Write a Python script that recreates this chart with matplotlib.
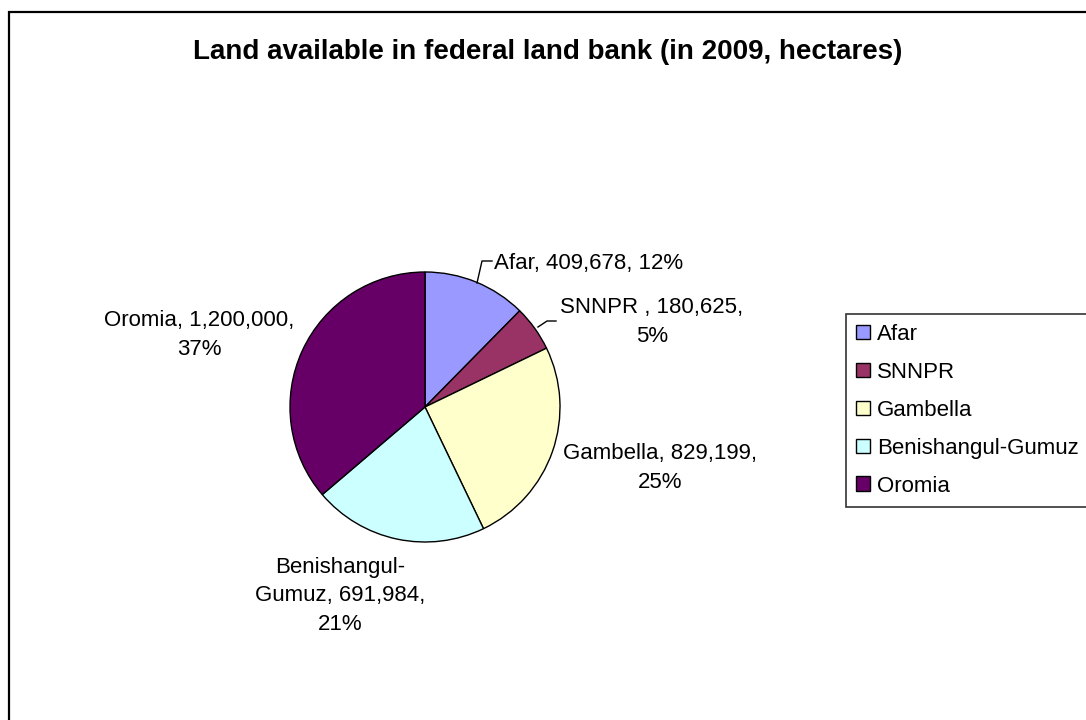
import matplotlib
matplotlib.use("Agg")
import matplotlib.pyplot as plt
from matplotlib.patches import Rectangle
from matplotlib.lines import Line2D

# ---- data ----
categories = ["Afar", "SNNPR ", "Gambella", "Benishangul-Gumuz", "Oromia"]
values = [409678, 180625, 829199, 691984, 1200000]
label_pcts = [12, 5, 25, 21, 37]
colors = ["#9999FF", "#993366", "#FFFFCC", "#CCFFFF", "#660066"]
title = "Land available in federal land bank (in 2009, hectares)"

W, H = 1086, 720
plt.rcParams['font.family'] = ['Liberation Sans', 'DejaVu Sans']

fig = plt.figure(figsize=(W / 100, H / 100), dpi=100)
fig.patch.set_facecolor("white")


def fx(x):
    return x / W


def fy(y):
    return 1 - y / H


# outer frame (extends past right/bottom edge)
fig.patches.append(Rectangle((fx(9), fy(760)), fx(1200), (760 - 12) / H,
                             transform=fig.transFigure, fill=False,
                             edgecolor="black", linewidth=1.6, zorder=0))

# title
fig.text(fx(548), fy(52), title, ha="center", va="center",
         fontsize=20, fontweight="bold")

# pie
cx, cy, r = 425, 407, 135
ax = fig.add_axes([fx(cx - r), fy(cy + r), 2 * r / W, 2 * r / H])
wedges, _ = ax.pie(values, colors=colors, startangle=90, counterclock=False,
                   radius=1.0,
                   wedgeprops=dict(edgecolor="black", linewidth=1.0))
ax.set_xlim(-1, 1)
ax.set_ylim(-1, 1)
ax.set_aspect("equal")
ax.axis("off")

# data labels
texts = []
for cat, val, pct in zip(categories, values, label_pcts):
    texts.append(f"{cat}, {val:,}, {pct}%")
# line breaks as in the reference
texts[1] = texts[1].replace(", 5%", ",\n5%")
texts[2] = texts[2].replace(", 25%", ",\n25%")
texts[3] = texts[3].replace("Benishangul-", "Benishangul-\n").replace(", 21%", ",\n21%")
texts[4] = texts[4].replace(", 37%", ",\n37%")

label_pos = [(494, 263, "left"), (652, 322, "center"), (660, 468, "center"),
             (340, 596, "center"), (199, 335, "center")]
for t, (x, y, ha) in zip(texts, label_pos):
    fig.text(fx(x), fy(y), t, ha=ha, va="center", fontsize=16,
             multialignment="center", linespacing=1.5)

# leader lines
for pts in ([(477, 283), (482, 261), (492, 261)],
            [(538, 327), (547, 321), (556, 321)]):
    fig.lines.append(Line2D([fx(p[0]) for p in pts], [fy(p[1]) for p in pts],
                            transform=fig.transFigure, color="black",
                            linewidth=1.0))

# legend
handles = [Rectangle((0, 0), 1, 1, facecolor=c, edgecolor="black", linewidth=1.0)
           for c in colors]
leg = fig.legend(handles, [c.strip() for c in categories],
                 loc="upper left", bbox_to_anchor=(fx(846), fy(314)),
                 bbox_transform=fig.transFigure, fontsize=16,
                 frameon=True, fancybox=False, shadow=False,
                 edgecolor="black", borderaxespad=0, borderpad=0.45,
                 handlelength=0.63, handleheight=0.63, handletextpad=0.32,
                 labelspacing=0.76)
leg.get_frame().set_linewidth(1.2)

fig.savefig("out.png", dpi=100)
